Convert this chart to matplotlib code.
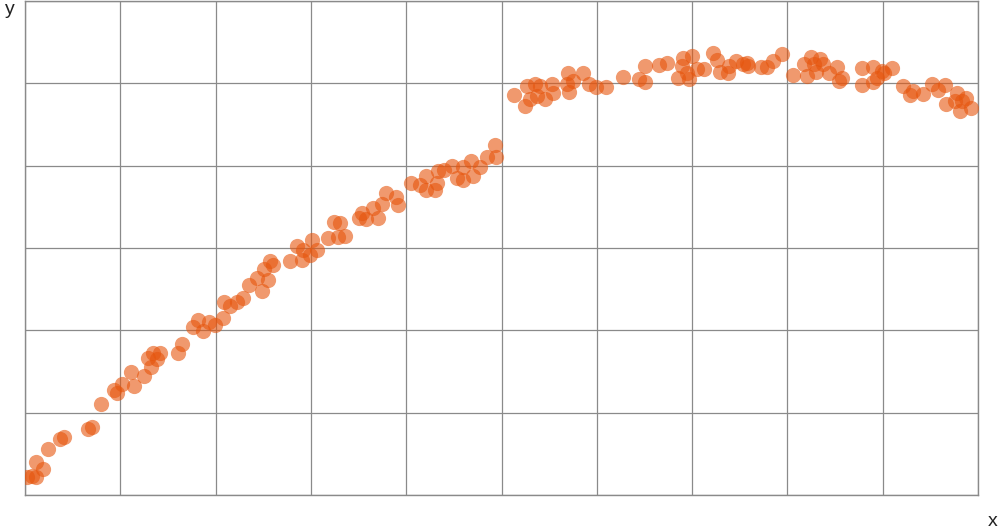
import matplotlib.pyplot as plt

# values (x in grid units 0..10, y in grid units 0..6)
x_vals = [0.02, 0.07, 0.12, 0.12, 0.19, 0.24, 0.37, 0.41, 0.66, 0.70,
          0.80, 0.93, 0.97, 1.02, 1.14, 1.11, 1.25, 1.32, 1.29, 1.34,
          1.39, 1.42, 1.61, 1.65, 1.76, 1.82, 1.87, 1.93, 1.99, 2.08,
          2.09, 2.15, 2.22, 2.29, 2.35, 2.43, 2.49, 2.55, 2.51, 2.57,
          2.60, 2.78, 2.85, 2.91, 2.92, 2.99, 3.01, 3.06, 3.18, 3.24,
          3.28, 3.31, 3.36, 3.50, 3.54, 3.58, 3.65, 3.70, 3.75, 3.79,
          3.89, 3.91, 4.05, 4.14, 4.21, 4.21, 4.30, 4.32, 4.33, 4.40,
          4.48, 4.53, 4.60, 4.60, 4.68, 4.70, 4.77, 4.85, 4.94, 4.93,
          5.13, 5.25, 5.27, 5.30, 5.35, 5.37, 5.40, 5.46, 5.53, 5.54,
          5.70, 5.69, 5.71, 5.75, 5.86, 5.92, 5.99, 6.10, 6.27, 6.44,
          6.51, 6.51, 6.65, 6.74, 6.85, 6.89, 6.90, 6.95, 6.97, 7.00,
          7.05, 7.12, 7.22, 7.26, 7.29, 7.38, 7.39, 7.46, 7.53, 7.58,
          7.59, 7.72, 7.79, 7.85, 7.94, 8.06, 8.17, 8.21, 8.25, 8.28,
          8.30, 8.34, 8.37, 8.44, 8.52, 8.54, 8.57, 8.78, 8.78, 8.90,
          8.90, 8.94, 8.99, 9.01, 9.10, 9.21, 9.29, 9.32, 9.42, 9.52,
          9.58, 9.65, 9.66, 9.78, 9.76, 9.83, 9.81, 9.87, 9.93]
y_vals = [0.22, 0.23, 0.22, 0.40, 0.32, 0.56, 0.68, 0.70, 0.80, 0.82,
          1.10, 1.28, 1.24, 1.35, 1.32, 1.50, 1.45, 1.55, 1.67, 1.73,
          1.65, 1.73, 1.72, 1.83, 2.04, 2.12, 1.99, 2.10, 2.07, 2.15,
          2.35, 2.30, 2.35, 2.39, 2.55, 2.63, 2.48, 2.61, 2.75, 2.84,
          2.79, 2.84, 3.02, 2.85, 2.97, 2.91, 3.10, 2.98, 3.12, 3.32,
          3.13, 3.30, 3.14, 3.37, 3.42, 3.35, 3.49, 3.37, 3.54, 3.67,
          3.62, 3.52, 3.79, 3.76, 3.88, 3.70, 3.70, 3.79, 3.93, 3.95,
          4.00, 3.85, 3.83, 3.98, 4.06, 3.87, 3.98, 4.10, 4.11, 4.25,
          4.86, 4.72, 4.97, 4.81, 4.99, 4.85, 4.97, 4.81, 4.99, 4.88,
          5.12, 4.99, 4.90, 5.03, 5.12, 4.99, 4.95, 4.96, 5.08, 5.05,
          5.21, 5.02, 5.22, 5.25, 5.07, 5.21, 5.31, 5.12, 5.05, 5.33,
          5.18, 5.18, 5.37, 5.28, 5.14, 5.12, 5.21, 5.27, 5.24, 5.25,
          5.21, 5.20, 5.20, 5.27, 5.36, 5.10, 5.24, 5.09, 5.32, 5.24,
          5.14, 5.30, 5.24, 5.12, 5.20, 5.03, 5.07, 5.19, 4.98, 5.02,
          5.20, 5.07, 5.15, 5.13, 5.19, 4.97, 4.86, 4.91, 4.87, 4.99,
          4.92, 4.98, 4.75, 4.88, 4.79, 4.79, 4.67, 4.82, 4.70]

dot_color = '#e6550d'
grid_color = '#8a8a8a'

fig = plt.figure(figsize=(10.01, 5.31), dpi=100)
ax = fig.add_axes([25 / 1001, 36 / 531, 953 / 1001, 494 / 531])

ax.scatter(x_vals, y_vals, s=120, color=dot_color, alpha=0.6,
           linewidths=0, zorder=3)

ax.set_xlim(0, 10)
ax.set_ylim(0, 6)
ax.set_xticks(range(0, 11))
ax.set_yticks(range(0, 7))
ax.tick_params(length=0, labelbottom=False, labelleft=False)
ax.grid(True, color=grid_color, linewidth=0.9)
for spine in ax.spines.values():
    spine.set_color(grid_color)
    spine.set_linewidth(1.0)

fig.text(10 / 1001, 1 - 10 / 531, 'y', ha='center', va='center',
         fontsize=14, family='Liberation Sans', color='#222222')
fig.text(993 / 1001, 1 - 522 / 531, 'x', ha='center', va='center',
         fontsize=14, family='Liberation Sans', color='#222222')

fig.savefig('out.png', dpi=100)
